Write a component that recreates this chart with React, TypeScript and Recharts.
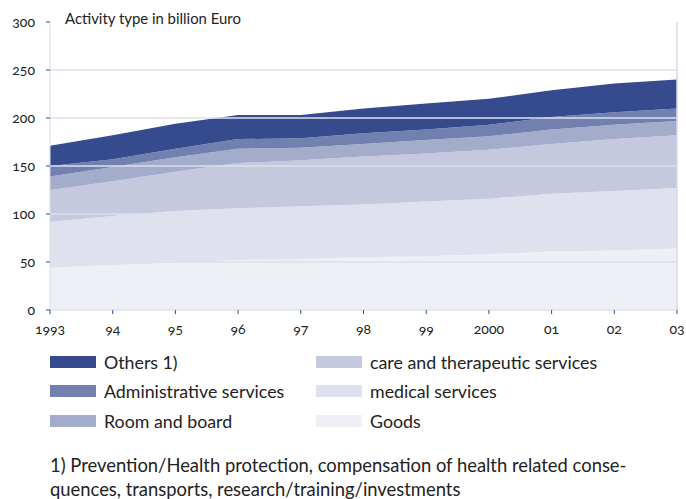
import React from 'react';
import { AreaChart, Area, XAxis, YAxis, ReferenceLine } from 'recharts';

// years on the x axis, as printed
const years = ['1993', '94', '95', '96', '97', '98', '99', '2000', '01', '02', '03'];

// billion Euro per activity type
const goods = [44, 47, 49, 52, 53, 55, 56, 58, 61, 62, 64];
const medical = [48, 51, 54, 54, 55, 55, 57, 58, 60, 62, 63];
const care = [33, 36, 41, 47, 48, 50, 50, 51, 52, 54, 55];
const roomBoard = [14, 15, 15, 15, 13, 13, 14, 14, 15, 15, 15];
const admin = [11, 8, 9, 10, 10, 11, 11, 12, 13, 13, 13];
const others = [21, 25, 26, 25, 24, 26, 27, 27, 28, 30, 30];

const yTicks = [0, 50, 100, 150, 200, 250, 300];
const gridLines = [50, 100, 150, 200, 250];

const series = [
  { key: 'goods', name: 'Goods', values: goods, color: '#eef0f6' },
  { key: 'medical', name: 'medical services', values: medical, color: '#dfe2ee' },
  { key: 'care', name: 'care and therapeutic services', values: care, color: '#c4c9de' },
  { key: 'room', name: 'Room and board', values: roomBoard, color: '#a3acca' },
  { key: 'admin', name: 'Administrative services', values: admin, color: '#7280b0' },
  { key: 'others', name: 'Others 1)', values: others, color: '#364a8e' },
];

// legend is laid out in two columns, top-down
const legendLeft = ['others', 'admin', 'room'];
const legendRight = ['care', 'medical', 'goods'];

const data = years.map((year, i) => {
  const row: Record<string, string | number> = { year };
  series.forEach(s => { row[s.key] = s.values[i]; });
  return row;
});

const navy = '#364a8e';
const axisGrey = '#d6d9e8';
const font = 'Lato, "Open Sans", sans-serif';
const tickStyle = { fill: '#222', fontSize: 14, fontFamily: font, style: { fontVariantNumeric: 'oldstyle-nums' } };

const LegendItem: React.FC<{ k: string }> = ({ k }) => {
  const s = series.find(x => x.key === k)!;
  return (
    <div style={{ display: 'flex', alignItems: 'center', height: 29.5, whiteSpace: 'nowrap' }}>
      <div style={{ width: 46, height: 12, background: s.color, marginRight: 8, flexShrink: 0 }} />
      <span>{s.name}</span>
    </div>
  );
};

const App: React.FC = () => {
  return (
    <div style={{ position: 'absolute', left: 0, top: 0, width: 686, height: 499, background: '#fff', fontFamily: font, color: '#222', overflow: 'hidden' }}>
      <div style={{ position: 'absolute', left: 65, top: 9, fontSize: 14.9 }}>Activity type in billion Euro</div>
      <AreaChart width={686} height={345} data={data} margin={{ top: 22, right: 9, bottom: 5, left: 0 }}>
        <XAxis
          dataKey="year"
          height={30}
          stroke={axisGrey}
          tickLine={{ stroke: navy }}
          tickSize={4}
          tickMargin={10}
          tick={tickStyle}
          interval={0}
        />
        <YAxis
          width={50}
          domain={[0, 300]}
          ticks={yTicks}
          stroke={axisGrey}
          tickLine={{ stroke: navy }}
          tickSize={4}
          tickMargin={11}
          tick={tickStyle}
        />
        {series.map(s => (
          <Area
            key={s.key}
            dataKey={s.key}
            name={s.name}
            stackId="a"
            type="linear"
            stroke="none"
            fill={s.color}
            fillOpacity={1}
            isAnimationActive={false}
          />
        ))}
        {gridLines.map(v => (
          <ReferenceLine key={v} y={v} stroke="#dde0ec" strokeWidth={1.5} />
        ))}
        <ReferenceLine x="03" stroke={axisGrey} strokeWidth={1.5} />
      </AreaChart>
      <div style={{ position: 'absolute', left: 50, top: 347, fontSize: 17.8, display: 'flex' }}>
        <div style={{ width: 266 }}>
          {legendLeft.map(k => <LegendItem key={k} k={k} />)}
        </div>
        <div>
          {legendRight.map(k => <LegendItem key={k} k={k} />)}
        </div>
      </div>
      <div style={{ position: 'absolute', left: 50, top: 453, fontSize: 18.4, lineHeight: '24px', whiteSpace: 'nowrap' }}>
        1) Prevention/Health protection, compensation of health related conse-<br />
        quences, transports, research/training/investments
      </div>
    </div>
  );
};

export default App;
